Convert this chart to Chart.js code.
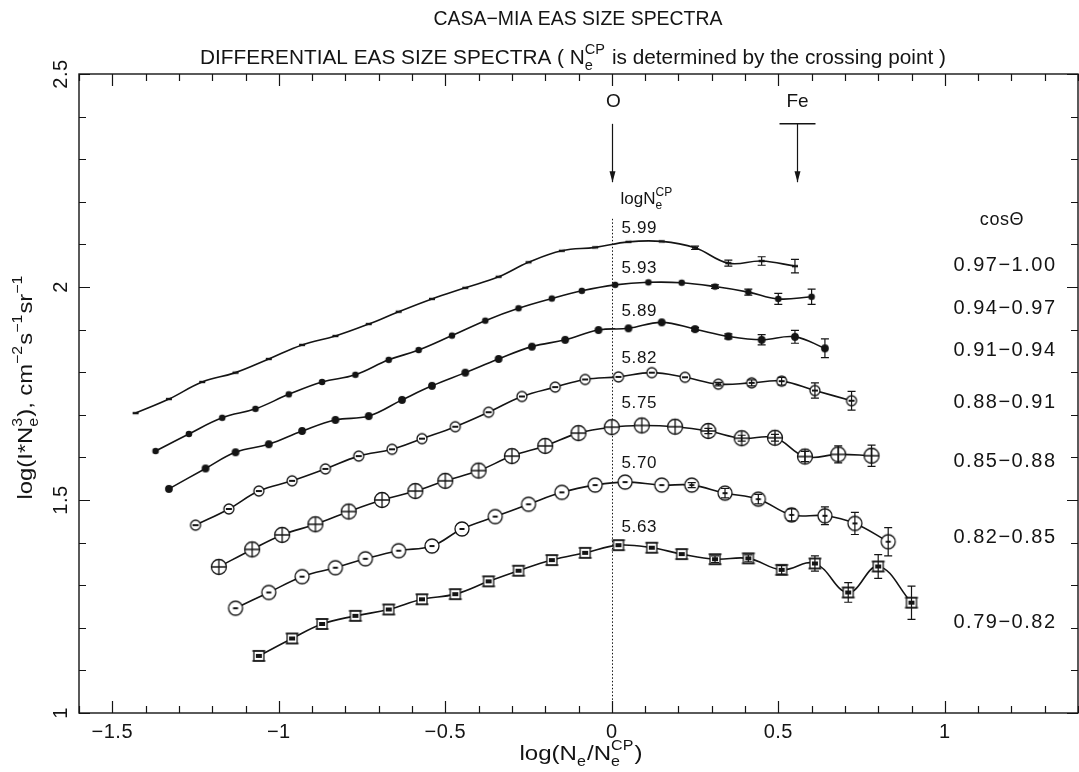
<!DOCTYPE html>
<html lang="en">
<head>
<meta charset="UTF-8" />
<title>CASA-MIA EAS size spectra</title>
<style>
  body { margin: 0; background: #fff; }
  #wrap { width: 1079px; height: 772px; }
</style>
</head>
<body>
<div id="wrap"><canvas id="spectra" width="1079" height="772"></canvas></div>
<script src="https://cdn.jsdelivr.net/npm/chart.js"></script>
<script>
// cos(theta) bins, top curve first, and the crossing-point size of each bin
const bins = ['0.97−1.00', '0.94−0.97', '0.91−0.94', '0.88−0.91', '0.85−0.88', '0.82−0.85', '0.79−0.82'];
const logNcp = ['5.99', '5.93', '5.89', '5.82', '5.75', '5.70', '5.63'];

// log(Ne/Ne_cp), log(I*Ne^3) and its error for each bin
const x1 = [-1.43, -1.33, -1.23, -1.13, -1.03, -0.93, -0.83, -0.73, -0.64, -0.54, -0.44, -0.34, -0.25, -0.15, -0.05, 0.05, 0.15, 0.25, 0.35, 0.45, 0.55];
const y1 = [1.704, 1.737, 1.777, 1.799, 1.831, 1.864, 1.885, 1.913, 1.942, 1.972, 1.998, 2.024, 2.058, 2.085, 2.093, 2.106, 2.107, 2.092, 2.056, 2.061, 2.049];
const e1 = [0, 0, 0, 0, 0, 0, 0, 0, 0, 0, 0, 0, 0, 0, 0, 0, 0, 0.004, 0.007, 0.010, 0.016];

const x2 = [-1.37, -1.27, -1.17, -1.07, -0.97, -0.87, -0.77, -0.67, -0.58, -0.48, -0.38, -0.28, -0.18, -0.09, 0.01, 0.11, 0.21, 0.31, 0.41, 0.50, 0.60];
const y2 = [1.615, 1.655, 1.693, 1.714, 1.748, 1.777, 1.794, 1.829, 1.852, 1.886, 1.921, 1.950, 1.973, 1.991, 2.005, 2.011, 2.010, 2.001, 1.988, 1.972, 1.977];
const e2 = [0, 0, 0, 0, 0, 0, 0, 0, 0, 0, 0, 0, 0, 0, 0, 0, 0, 0.004, 0.007, 0.013, 0.018];

const x3 = [-1.33, -1.22, -1.13, -1.03, -0.93, -0.83, -0.73, -0.63, -0.54, -0.44, -0.34, -0.24, -0.14, -0.04, 0.05, 0.15, 0.25, 0.35, 0.45, 0.55, 0.64];
const y3 = [1.526, 1.574, 1.612, 1.631, 1.662, 1.688, 1.697, 1.735, 1.768, 1.799, 1.831, 1.860, 1.876, 1.899, 1.903, 1.917, 1.901, 1.884, 1.876, 1.883, 1.856];
const e3 = [0, 0, 0, 0, 0, 0, 0, 0, 0, 0, 0, 0, 0, 0, 0, 0, 0.004, 0.006, 0.012, 0.015, 0.022];

const x4 = [-1.25, -1.15, -1.06, -0.96, -0.86, -0.76, -0.66, -0.57, -0.47, -0.37, -0.27, -0.17, -0.08, 0.02, 0.12, 0.22, 0.32, 0.42, 0.51, 0.61, 0.72];
const y4 = [1.441, 1.479, 1.521, 1.545, 1.573, 1.603, 1.619, 1.644, 1.672, 1.706, 1.743, 1.765, 1.783, 1.789, 1.799, 1.788, 1.772, 1.775, 1.779, 1.757, 1.733];
const e4 = [0, 0, 0, 0, 0, 0, 0, 0, 0, 0, 0, 0, 0, 0, 0, 0, 0.004, 0.007, 0.009, 0.018, 0.022];

const x5 = [-1.18, -1.08, -0.99, -0.89, -0.79, -0.69, -0.59, -0.50, -0.40, -0.30, -0.20, -0.10, 0.00, 0.09, 0.19, 0.29, 0.39, 0.49, 0.58, 0.68, 0.78];
const y5 = [1.343, 1.384, 1.418, 1.443, 1.473, 1.500, 1.521, 1.545, 1.569, 1.603, 1.627, 1.657, 1.671, 1.675, 1.672, 1.662, 1.645, 1.646, 1.602, 1.607, 1.604];
const e5 = [0, 0, 0, 0, 0, 0, 0, 0, 0, 0, 0, 0, 0, 0, 0, 0.006, 0.007, 0.008, 0.012, 0.020, 0.025];

const x6 = [-1.13, -1.03, -0.93, -0.83, -0.74, -0.64, -0.54, -0.45, -0.35, -0.25, -0.15, -0.05, 0.04, 0.15, 0.24, 0.34, 0.44, 0.54, 0.64, 0.73, 0.83];
const y6 = [1.246, 1.283, 1.320, 1.341, 1.362, 1.381, 1.392, 1.432, 1.461, 1.490, 1.518, 1.535, 1.542, 1.535, 1.535, 1.516, 1.502, 1.465, 1.463, 1.445, 1.402];
const e6 = [0, 0, 0, 0, 0, 0, 0, 0, 0, 0, 0, 0, 0, 0, 0.006, 0.011, 0.011, 0.014, 0.021, 0.026, 0.033];

const x7 = [-1.06, -0.96, -0.87, -0.77, -0.67, -0.57, -0.47, -0.37, -0.28, -0.18, -0.08, 0.02, 0.12, 0.21, 0.31, 0.41, 0.51, 0.61, 0.71, 0.80, 0.90];
const y7 = [1.134, 1.175, 1.209, 1.228, 1.243, 1.267, 1.279, 1.309, 1.334, 1.359, 1.376, 1.394, 1.388, 1.373, 1.361, 1.363, 1.336, 1.351, 1.283, 1.344, 1.259];
const e7 = [0, 0, 0, 0, 0, 0, 0, 0, 0, 0, 0, 0, 0, 0, 0.008, 0.008, 0.010, 0.018, 0.023, 0.028, 0.039];

// labelled ticks; minor ticks every 0.1
const xLabelTicks = [-1.5, -1, -0.5, 0, 0.5, 1];
const yLabelTicks = [1, 1.5, 2, 2.5];

const xsAll = [x1, x2, x3, x4, x5, x6, x7];
const ysAll = [y1, y2, y3, y4, y5, y6, y7];
const errAll = [e1, e2, e3, e4, e5, e6, e7];

const ink = '#141414';
const FONT = '"Liberation Sans", Arial, Helvetica, sans-serif';

// ---- marker symbols ----
function symbol(draw) {
  const c = document.createElement('canvas');
  c.width = 20; c.height = 20;
  const g = c.getContext('2d');
  g.translate(10, 10);
  g.strokeStyle = ink; g.fillStyle = ink; g.lineWidth = 1.3;
  draw(g);
  return c;
}
function ring(g, r) {
  g.beginPath(); g.arc(0, 0, r, 0, Math.PI * 2);
  g.fillStyle = '#fff'; g.fill(); g.stroke(); g.fillStyle = ink;
}
const marks = [
  symbol(g => g.fillRect(-3, -1.2, 6, 2.4)),
  symbol(g => { g.beginPath(); g.arc(0, 0, 3.3, 0, Math.PI * 2); g.fill(); }),
  symbol(g => { g.beginPath(); g.arc(0, 0, 3.9, 0, Math.PI * 2); g.fill(); }),
  symbol(g => { ring(g, 5); g.fillRect(-3, -1, 6, 2); }),
  symbol(g => {
    ring(g, 7.5);
    g.beginPath(); g.moveTo(-7.5, 0); g.lineTo(7.5, 0); g.moveTo(0, -7.5); g.lineTo(0, 7.5); g.stroke();
  }),
  symbol(g => { ring(g, 7); g.fillRect(-2.5, -1, 5, 2); }),
  symbol(g => {
    g.fillStyle = '#fff'; g.fillRect(-5, -5, 10, 10); g.fillStyle = ink;
    g.strokeRect(-5, -5, 10, 10);
    g.beginPath(); g.moveTo(-6.5, -5); g.lineTo(6.5, -5); g.moveTo(-6.5, 5); g.lineTo(6.5, 5); g.stroke();
    g.fillRect(-3, -2, 6, 4);
  }),
];

// text with sub/superscripts: parts are strings or {sub, sup}
function richText(ctx, parts, x, y, size, align, fitWidth) {
  const big = size + 'px ' + FONT;
  const small = Math.round(size * 0.68) + 'px ' + FONT;
  const widths = parts.map(p => {
    if (typeof p === 'string') { ctx.font = big; return ctx.measureText(p).width; }
    ctx.font = small;
    return Math.max(p.sub ? ctx.measureText(p.sub).width : 0, p.sup ? ctx.measureText(p.sup).width : 0) + 1;
  });
  const total = widths.reduce((a, b) => a + b, 0);
  const sx = fitWidth ? fitWidth / total : 1;
  let cx = align === 'center' ? -total / 2 : align === 'right' ? -total : 0;
  ctx.save();
  ctx.translate(x, y);
  ctx.scale(sx, 1);
  ctx.textAlign = 'left';
  ctx.textBaseline = 'alphabetic';
  parts.forEach((p, i) => {
    if (typeof p === 'string') {
      ctx.font = big; ctx.fillText(p, cx, 0);
    } else {
      ctx.font = small;
      if (p.sub) ctx.fillText(p.sub, cx, size * 0.3);
      if (p.sup) ctx.fillText(p.sup, cx, -size * 0.5);
    }
    cx += widths[i];
  });
  ctx.restore();
}

function fmt(v) {
  return String(v).replace('-', '−');
}

// frame, inward ticks, tick labels, titles
const frame = {
  id: 'frame',
  afterDraw(chart) {
    const { ctx, chartArea: a } = chart;
    const xs = chart.scales.x, ys = chart.scales.y;
    ctx.save();
    ctx.strokeStyle = ink; ctx.fillStyle = ink;
    ctx.lineWidth = 1.4;
    ctx.strokeRect(a.left, a.top, a.right - a.left, a.bottom - a.top);

    ctx.lineWidth = 1.2;
    ctx.beginPath();
    for (let k = -16; k <= 14; k++) {
      const px = Math.round(xs.getPixelForValue(k / 10)) + 0.5;
      const len = k % 5 === 0 ? 12 : 7;
      ctx.moveTo(px, a.bottom); ctx.lineTo(px, a.bottom - len);
      ctx.moveTo(px, a.top); ctx.lineTo(px, a.top + len);
    }
    for (let k = 10; k <= 25; k++) {
      const py = Math.round(ys.getPixelForValue(k / 10)) + 0.5;
      const len = k % 5 === 0 ? 11 : 7;
      ctx.moveTo(a.left, py); ctx.lineTo(a.left + len, py);
      ctx.moveTo(a.right, py); ctx.lineTo(a.right - len, py);
    }
    ctx.stroke();

    ctx.font = '20px ' + FONT;
    ctx.letterSpacing = '0.5px';
    ctx.textAlign = 'center';
    ctx.textBaseline = 'middle';
    xLabelTicks.forEach(v => ctx.fillText(fmt(v), xs.getPixelForValue(v), 732));
    yLabelTicks.forEach(v => {
      ctx.save();
      ctx.translate(61, ys.getPixelForValue(v));
      ctx.rotate(-Math.PI / 2);
      ctx.fillText(fmt(v), 0, 0);
      ctx.restore();
    });
    ctx.letterSpacing = '0px';

    richText(ctx, ['CASA−MIA EAS SIZE SPECTRA'], 578, 25, 20, 'center', 289);
    richText(ctx, ['DIFFERENTIAL EAS SIZE SPECTRA ( N', { sub: 'e', sup: 'CP' }, ' is determined by the crossing point )'],
      573, 64, 20, 'center', 746);
    richText(ctx, ['log(N', { sub: 'e' }, '/N', { sub: 'e', sup: 'CP' }, ')'], 581, 760, 21, 'center', 123);

    ctx.save();
    ctx.translate(32, 387);
    ctx.rotate(-Math.PI / 2);
    richText(ctx, ['log(I*N', { sub: 'e', sup: '3' }, '), cm', { sup: '−2' }, 's', { sup: '−1' }, 'sr', { sup: '−1' }],
      0, 0, 21, 'center', 225);
    ctx.restore();
    ctx.restore();
  },
};

// dotted crossing-point line, arrows, bin labels and error bars
const binLabelY = [265, 308, 350, 402, 461, 537, 622];
const ncpLabelY = [228, 268, 311, 358, 403, 463, 527];

function arrow(ctx, x, y0, y1) {
  ctx.beginPath();
  ctx.moveTo(x, y0); ctx.lineTo(x, y1);
  ctx.stroke();
  ctx.beginPath();
  ctx.moveTo(x - 3, y1 - 11); ctx.lineTo(x, y1); ctx.lineTo(x + 3, y1 - 11);
  ctx.closePath(); ctx.fill();
}

const notes = {
  id: 'notes',
  beforeDatasetsDraw(chart) {
    const { ctx, chartArea: a } = chart;
    const px = Math.round(chart.scales.x.getPixelForValue(0)) + 0.5;
    ctx.save();
    ctx.strokeStyle = ink; ctx.lineWidth = 1;
    ctx.setLineDash([1.5, 2]);
    ctx.beginPath();
    ctx.moveTo(px, chart.scales.y.getPixelForValue(2.16));
    ctx.lineTo(px, a.bottom);
    ctx.stroke();
    ctx.restore();
  },
  afterDatasetsDraw(chart) {
    const { ctx } = chart;
    const xs = chart.scales.x, ys = chart.scales.y;
    ctx.save();
    ctx.strokeStyle = ink; ctx.fillStyle = ink; ctx.lineWidth = 1.2;

    errAll.forEach((err, k) => {
      const meta = chart.getDatasetMeta(k);
      meta.data.forEach((pt, i) => {
        if (!err[i]) return;
        const top = ys.getPixelForValue(ysAll[k][i] + err[i]);
        const bot = ys.getPixelForValue(ysAll[k][i] - err[i]);
        ctx.beginPath();
        ctx.moveTo(pt.x, top); ctx.lineTo(pt.x, bot);
        ctx.moveTo(pt.x - 4, top); ctx.lineTo(pt.x + 4, top);
        ctx.moveTo(pt.x - 4, bot); ctx.lineTo(pt.x + 4, bot);
        ctx.stroke();
      });
    });

    // O and Fe markers
    const xO = Math.round(xs.getPixelForValue(0)) + 0.5;
    const xFe = Math.round(xs.getPixelForValue(0.557)) + 0.5;
    const yTop = ys.getPixelForValue(2.383), yTip = ys.getPixelForValue(2.246);
    arrow(ctx, xO, yTop, yTip);
    arrow(ctx, xFe, yTop, yTip);
    ctx.lineWidth = 1.5;
    ctx.beginPath();
    ctx.moveTo(xFe - 18, yTop); ctx.lineTo(xFe + 18, yTop);
    ctx.stroke();

    ctx.font = '19px ' + FONT;
    ctx.textAlign = 'center'; ctx.textBaseline = 'middle';
    ctx.fillText('O', xO + 1, 102);
    ctx.fillText('Fe', xFe, 102);

    richText(ctx, ['logN', { sub: 'e', sup: 'CP' }], xO + 8, 204, 17, 'left');

    ctx.font = '17px ' + FONT;
    ctx.letterSpacing = '0.6px';
    ctx.textAlign = 'left';
    logNcp.forEach((t, k) => ctx.fillText(t, xO + 9, ncpLabelY[k]));

    ctx.textAlign = 'center';
    ctx.font = '18px ' + FONT;
    ctx.fillText('cosΘ', 1002, 220);
    ctx.font = '20px ' + FONT;
    ctx.letterSpacing = '1.5px';
    bins.forEach((t, k) => ctx.fillText(t, 1005, binLabelY[k]));
    ctx.restore();
  },
};

const datasets = ysAll.map((yy, k) => ({
  label: bins[k],
  data: yy.map((v, i) => ({ x: xsAll[k][i], y: v })),
  borderColor: ink,
  borderWidth: 1.6,
  tension: 0.4,
  pointStyle: marks[k],
  pointRadius: 5,
  fill: false,
}));

new Chart(document.getElementById('spectra'), {
  type: 'line',
  data: { datasets },
  options: {
    responsive: false,
    animation: false,
    events: [],
    layout: { autoPadding: false, padding: { left: 79, right: 1, top: 74, bottom: 59 } },
    plugins: { legend: { display: false }, tooltip: { enabled: false } },
    scales: {
      x: { type: 'linear', min: -1.6, max: 1.4, display: false },
      y: { type: 'linear', min: 1, max: 2.5, display: false },
    },
  },
  plugins: [frame, notes],
});
</script>
</body>
</html>
